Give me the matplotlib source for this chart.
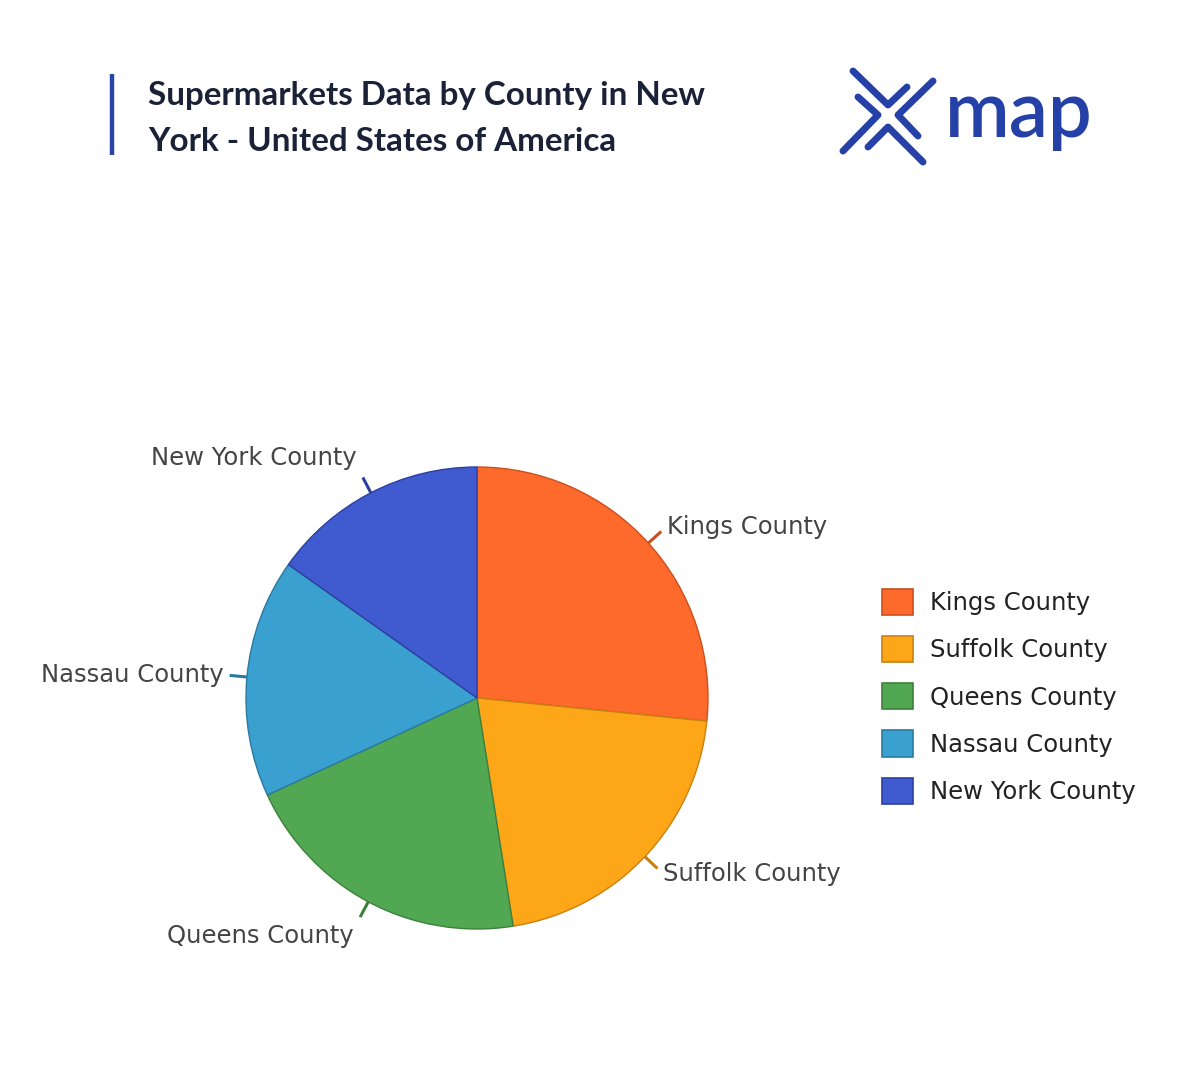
import numpy as np
import matplotlib
matplotlib.use("Agg")
import matplotlib.pyplot as plt
from matplotlib.lines import Line2D

# ---- data ----
counties = ["Kings County", "Suffolk County", "Queens County", "Nassau County", "New York County"]
values = [26.6, 20.9, 20.6, 16.7, 15.2]
colors = ["#FE6A2B", "#FDA618", "#52A852", "#3AA0D0", "#405AD0"]
edge_colors = ["#C9501E", "#C98010", "#3D803D", "#2A7AA0", "#2C3FA0"]
title_lines = ["Supermarkets Data by County in New", "York - United States of America"]

W, H = 1200, 1080
fig = plt.figure(figsize=(W / 100, H / 100), dpi=100)
fig.patch.set_facecolor("white")

def fx(px):
    return px / W

def fy(py):
    return 1 - py / H

# ---- pie ----
cx, cy, R = 477, 698, 231
ax = fig.add_axes([fx(cx - R), fy(cy + R), 2 * R / W, 2 * R / H])
ax.axis("off")

wedges, _ = ax.pie(values, colors=colors, startangle=90, counterclock=False,
                   radius=1, wedgeprops=dict(linewidth=1.0))
ax.set_xlim(-1, 1)
ax.set_ylim(-1, 1)
ax.set_aspect("equal")
for w, ec in zip(wedges, edge_colors):
    w.set_edgecolor(ec)

for w, ec, name in zip(wedges, edge_colors, counties):
    mid = np.deg2rad((w.theta1 + w.theta2) / 2)
    c, s = np.cos(mid), np.sin(mid)
    r0, r1 = 1.0, 1.075
    ax.plot([r0 * c, r1 * c], [r0 * s, r1 * s], color=ec, lw=2.2,
            solid_capstyle="butt", clip_on=False)
    side = 1 if c >= 0 else -1
    shift = 20 * np.clip((abs(s) - 0.6) / 0.3, 0, 1) * np.sign(s)
    ax.annotate(name, xy=(r1 * c, r1 * s), xytext=(side * 6 * 0.72, shift * 0.72),
                textcoords="offset points", ha="left" if side > 0 else "right",
                va="center", fontsize=17.5, color="#444444",
                family="DejaVu Sans", annotation_clip=False)

# ---- legend ----
handles = [plt.Rectangle((0, 0), 1, 1, facecolor=fc, edgecolor=ec, linewidth=1.2)
           for fc, ec in zip(colors, edge_colors)]
leg = fig.legend(handles, counties, loc="upper left",
                 bbox_to_anchor=(fx(882), fy(589)), bbox_transform=fig.transFigure,
                 frameon=False, fontsize=17.5, handlelength=1.28, handleheight=1.28,
                 handletextpad=0.7, labelspacing=0.86, borderpad=0, borderaxespad=0)
for t in leg.get_texts():
    t.set_color("#222222")

# ---- title ----
fig.add_artist(Line2D([fx(112), fx(112)], [fy(74), fy(155)], color="#2A45A8",
                      lw=3.2, solid_capstyle="butt"))
for i, line in enumerate(title_lines):
    fig.text(fx(148), fy(105 + 46 * i), line, fontsize=23.9, family="Lato",
             weight="bold", color="#1B2238", ha="left", va="baseline")

# ---- logo ----
logo_c = "#2541A8"
strokes = [
    [(853, 71), (888, 105), (907, 87)],
    [(933, 81), (898, 115), (918, 136)],
    [(868, 147), (888, 127), (923, 162)],
    [(858, 97), (878, 115), (843, 151)],
]
for st in strokes:
    xs = [fx(p[0]) for p in st]
    ys = [fy(p[1]) for p in st]
    fig.add_artist(Line2D(xs, ys, color=logo_c, lw=5.0, solid_capstyle="round",
                          solid_joinstyle="round"))
fig.text(fx(945), fy(137), "map", fontsize=56, family="Lato", weight="semibold",
         color=logo_c, ha="left", va="baseline")

fig.savefig("out.png", dpi=100, facecolor="white")
